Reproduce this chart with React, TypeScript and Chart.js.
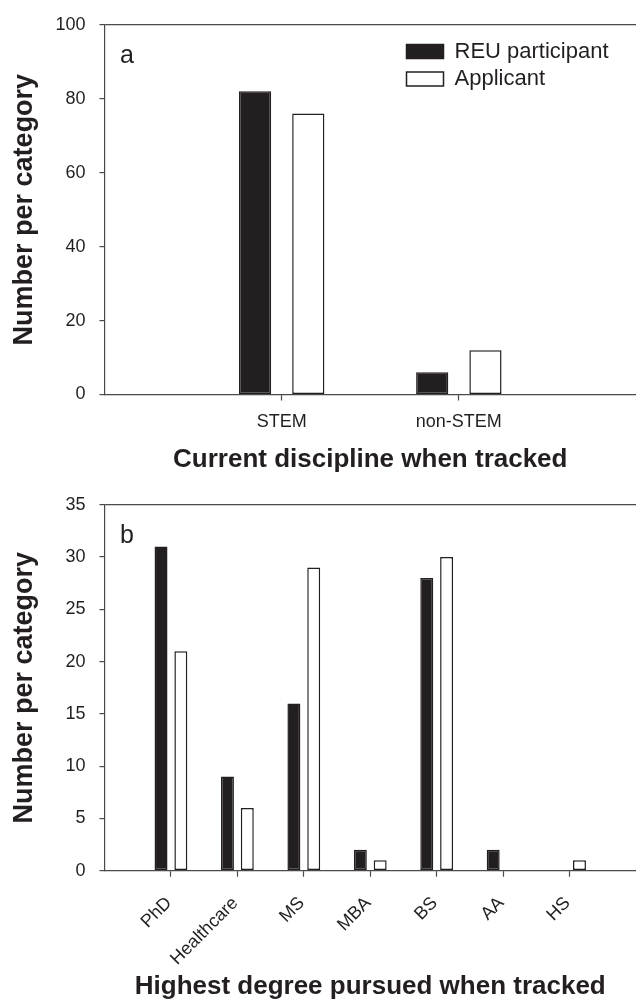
import React, { useEffect, useRef } from 'react';
import { Chart, registerables } from 'chart.js';

Chart.register(...registerables);
Chart.defaults.font.family = "'Liberation Sans', Arial, Helvetica, sans-serif";

// ---------- data ----------
const seriesNames = ['REU participant', 'Applicant'];

const disciplineCategories = ['STEM', 'non-STEM'];
const disciplineReu = [82, 6];
const disciplineApplicant = [76, 12];
const disciplineTicks = [0, 20, 40, 60, 80, 100];

const degreeCategories = ['PhD', 'Healthcare', 'MS', 'MBA', 'BS', 'AA', 'HS'];
const degreeReu = [31, 9, 16, 2, 28, 2, 0];
const degreeApplicant = [21, 6, 29, 1, 30, 0, 1];
const degreeTicks = [0, 5, 10, 15, 20, 25, 30, 35];

// ---------- styles ----------
const INK = '#231f20';
const AXIS = '#4a4a4a';

const panelLabel = (text: string) => ({
  id: 'panelLabel',
  afterDraw(chart: any) {
    const { ctx, chartArea } = chart;
    ctx.save();
    ctx.font = "25px 'Liberation Sans', Arial, sans-serif";
    ctx.fillStyle = INK;
    ctx.textBaseline = 'alphabetic';
    ctx.textAlign = 'left';
    ctx.fillText(text, chartArea.left + 15.5, chartArea.top + 38);
    ctx.restore();
  },
});

const legendPlace = {
  id: 'legendPlace',
  afterLayout(chart: any) {
    const lg = chart.legend;
    if (!lg) return;
    lg.left = chart.chartArea.right - 235;
    lg.top = chart.chartArea.top + 10.3;
  },
};

interface Cfg {
  cats: string[];
  reu: number[];
  app: number[];
  yTicks: number[];
  xTitle: string;
  panel: string;
  padTop: number;
  xAxisHeight: number;
  titlePadBottom: number;
  rotation: number;
  xTickPadding: number;
  labelOffset: number;
  tickLen: number;
  catPct: number;
  barPct: number;
  legend: boolean;
}

function buildConfig(c: Cfg): any {
  const yMax = c.yTicks[c.yTicks.length - 1];
  return {
    type: 'bar',
    data: {
      datasets: [
        {
          label: seriesNames[0],
          data: c.cats.map((_, i) => ({ x: i + 1, y: c.reu[i] })),
          backgroundColor: INK,
          borderColor: INK,
          borderWidth: 1.5,
          borderSkipped: false,
          categoryPercentage: c.catPct,
          barPercentage: c.barPct,
        },
        {
          label: seriesNames[1],
          data: c.cats.map((_, i) => ({ x: i + 1, y: c.app[i] })),
          backgroundColor: '#ffffff',
          borderColor: INK,
          borderWidth: 1.5,
          borderSkipped: false,
          categoryPercentage: c.catPct,
          barPercentage: c.barPct,
        },
      ],
    },
    options: {
      responsive: false,
      animation: false,
      events: [],
      layout: { padding: { top: c.padTop, right: -1.5, left: 0, bottom: 0 } },
      plugins: {
        tooltip: { enabled: false },
        legend: {
          display: c.legend,
          position: 'chartArea',
          align: 'start',
          labels: {
            boxWidth: 37,
            boxHeight: 14,
            padding: 5.5,
            color: INK,
            font: { size: 22 },
          },
        },
      },
      scales: {
        x: {
          type: 'linear',
          min: 0,
          max: c.cats.length + 1,
          offset: false,
          afterBuildTicks: (s: any) => {
            s.ticks = c.cats.map((_, i) => ({ value: i + 1 }));
          },
          afterFit: (s: any) => {
            s.height = c.xAxisHeight;
          },
          ticks: {
            autoSkip: false,
            callback: (v: number) => c.cats[Math.round(v) - 1] ?? '',
            color: INK,
            font: { size: 18 },
            padding: c.xTickPadding,
            minRotation: c.rotation,
            maxRotation: c.rotation,
            labelOffset: c.labelOffset,
          },
          grid: {
            display: true,
            offset: false,
            drawOnChartArea: false,
            drawTicks: true,
            tickLength: c.tickLen,
            tickColor: AXIS,
            tickWidth: 1.2,
          },
          border: { display: true, color: AXIS, width: 1.2 },
          title: {
            display: true,
            text: c.xTitle,
            color: INK,
            font: { size: 26, weight: 'bold', lineHeight: 1 },
            padding: { top: 0, bottom: c.titlePadBottom },
          },
        },
        y: {
          type: 'linear',
          min: 0,
          max: yMax,
          afterBuildTicks: (s: any) => {
            s.ticks = c.yTicks.map((v) => ({ value: v }));
          },
          afterFit: (s: any) => {
            s.width = 104.5;
          },
          ticks: { color: INK, font: { size: 18 }, padding: 14 },
          grid: {
            color: (ctx: any) => (ctx.tick && ctx.tick.value === yMax ? AXIS : 'rgba(0,0,0,0)'),
            tickColor: AXIS,
            tickLength: 5,
            lineWidth: 1.2,
            tickWidth: 1.2,
            drawTicks: true,
          },
          border: { display: true, color: AXIS, width: 1.2 },
          title: {
            display: true,
            text: 'Number per category',
            color: INK,
            font: { size: 27, weight: 'bold', lineHeight: 1 },
            padding: { top: 11, bottom: 0 },
          },
        },
      },
    },
    plugins: c.legend ? [panelLabel(c.panel), legendPlace] : [panelLabel(c.panel)],
  };
}

export default function App() {
  const topRef = useRef<HTMLCanvasElement>(null);
  const botRef = useRef<HTMLCanvasElement>(null);

  useEffect(() => {
    const c1 = new Chart(
      topRef.current as HTMLCanvasElement,
      buildConfig({
        cats: disciplineCategories,
        reu: disciplineReu,
        app: disciplineApplicant,
        yTicks: disciplineTicks,
        xTitle: 'Current discipline when tracked',
        panel: 'a',
        padTop: 20.7,
        xAxisHeight: 85.5,
        titlePadBottom: 7,
        rotation: 0,
        xTickPadding: 11,
        labelOffset: 0,
        tickLen: 6,
        catPct: 0.601,
        barPct: 0.605,
        legend: true,
      })
    );
    const c2 = new Chart(
      botRef.current as HTMLCanvasElement,
      buildConfig({
        cats: degreeCategories,
        reu: degreeReu,
        app: degreeApplicant,
        yTicks: degreeTicks,
        xTitle: 'Highest degree pursued when tracked',
        panel: 'b',
        padTop: 17.3,
        xAxisHeight: 129.3,
        titlePadBottom: 0,
        rotation: 45,
        xTickPadding: 16,
        labelOffset: -2,
        tickLen: 6,
        catPct: 0.597,
        barPct: 0.653,
        legend: false,
      })
    );
    return () => {
      c1.destroy();
      c2.destroy();
    };
  }, []);

  return (
    <div style={{ position: 'absolute', left: 0, top: 0, width: 636, height: 1000, background: '#ffffff' }}>
      <canvas ref={topRef} width={636} height={480} style={{ position: 'absolute', left: 0, top: 0 }} />
      <canvas ref={botRef} width={636} height={520} style={{ position: 'absolute', left: 0, top: 480 }} />
    </div>
  );
}
